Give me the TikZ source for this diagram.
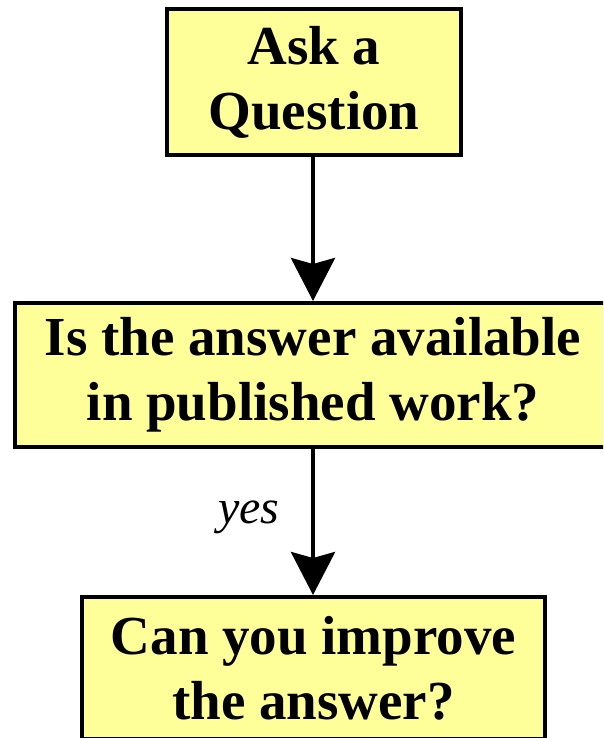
\documentclass[tikz,border=0pt]{standalone}
\usepackage{fontspec}
\setmainfont{Liberation Serif}
\usetikzlibrary{arrows.meta}
\definecolor{boxyellow}{HTML}{FFFF99}
\begin{document}
\begin{tikzpicture}[x=1pt,y=-1pt,
  box/.style={draw=black, line width=4pt, fill=boxyellow, inner sep=0pt,
    align=center, font=\fontsize{55}{65}\selectfont\bfseries},
  arr/.style={line width=4pt, -{Stealth[length=43pt,width=44pt,inset=6pt]}},
  lab/.style={font=\fontsize{48}{56}\selectfont\itshape, anchor=base}]
\useasboundingbox (0,0) rectangle (603,738);
\clip (0,0) rectangle (603,738);
\node[box, minimum width=294pt, minimum height=146pt] (ask) at (314,82) {Ask a\\Question};
\node[box, minimum width=596pt, minimum height=144pt] (avail) at (313,375) {Is the answer available\\in published work?};
\node[box, minimum width=463pt, minimum height=142pt] (improve) at (313.5,668) {Can you improve\\the answer?};
\draw[arr] (ask.south -| 313,0) -- (avail.north -| 313,0);
\draw[arr] (avail.south -| 313,0) -- (improve.north -| 313,0);
\node[lab] (yes) at (249,523) {yes};
\end{tikzpicture}
\end{document}
